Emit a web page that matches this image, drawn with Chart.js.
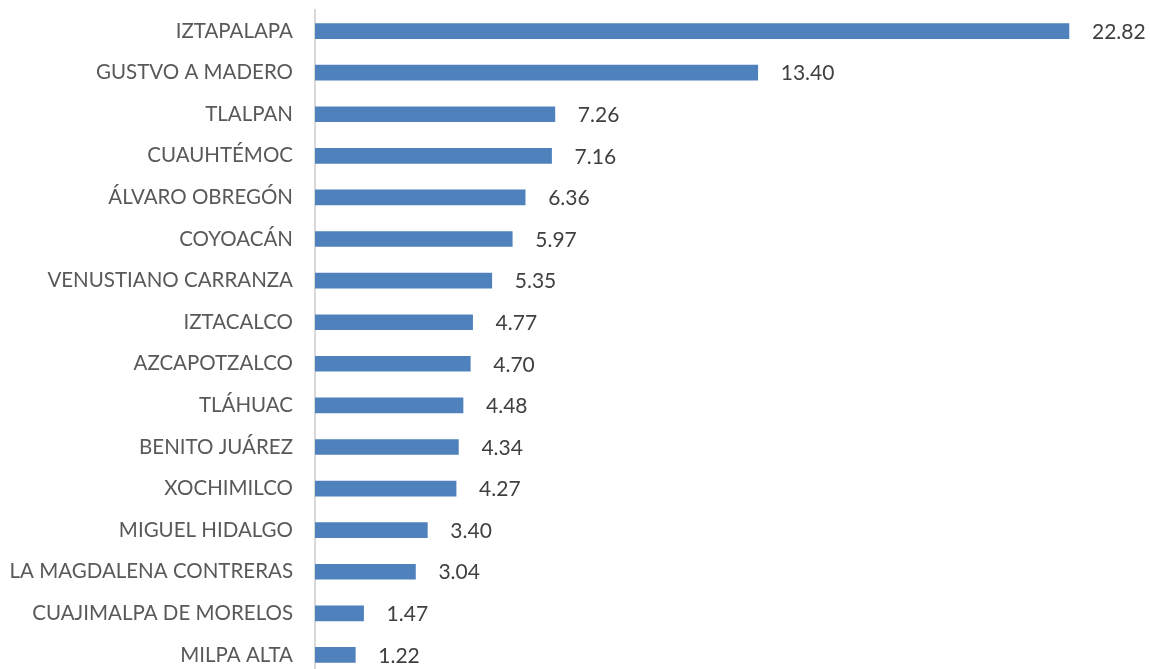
<!DOCTYPE html>
<html>
<head>
<meta charset="utf-8">
<script src="https://cdn.jsdelivr.net/npm/chart.js@4"></script>
<style>
html,body{margin:0;padding:0;background:#fff;overflow:hidden;}
#wrap{width:1150px;height:669px;position:relative;overflow:hidden;}
#c{position:absolute;left:0;top:-2px;}
</style>
</head>
<body>
<div id="wrap"><canvas id="c" width="1150" height="690"></canvas></div>
<script>
const categories = ["IZTAPALAPA","GUSTVO A MADERO","TLALPAN","CUAUHTÉMOC","ÁLVARO OBREGÓN","COYOACÁN","VENUSTIANO CARRANZA","IZTACALCO","AZCAPOTZALCO","TLÁHUAC","BENITO JUÁREZ","XOCHIMILCO","MIGUEL HIDALGO","LA MAGDALENA CONTRERAS","CUAJIMALPA DE MORELOS","MILPA ALTA"];
const values = [22.82,13.40,7.26,7.16,6.36,5.97,5.35,4.77,4.70,4.48,4.34,4.27,3.40,3.04,1.47,1.22];

const FONT = "Lato, 'Open Sans', sans-serif";

const valueLabels = {
  id: 'valueLabels',
  afterDatasetsDraw(chart) {
    const ctx = chart.ctx;
    const meta = chart.getDatasetMeta(0);
    ctx.save();
    ctx.font = "21px " + FONT;
    ctx.fillStyle = "#404040";
    ctx.textAlign = "left";
    ctx.textBaseline = "middle";
    meta.data.forEach((bar, i) => {
      ctx.fillText(values[i].toFixed(2), bar.x + 23, bar.y + 1);
    });
    ctx.restore();
  }
};

const chart = new Chart(document.getElementById('c'), {
  type: 'bar',
  data: {
    labels: categories,
    datasets: [{
      data: values,
      backgroundColor: '#4f81bd',
      borderWidth: 0,
      barThickness: 15
    }]
  },
  options: {
    indexAxis: 'y',
    responsive: false,
    animation: false,
    layout: { padding: { top: 0, bottom: 0, left: 0, right: 9 } },
    plugins: { legend: { display: false }, tooltip: { enabled: false } },
    scales: {
      x: {
        min: 0, max: 25,
        display: false
      },
      y: {
        afterFit(scale) { scale.width = 315; },
        grid: { display: true, drawOnChartArea: false, drawTicks: true, tickLength: 22, tickColor: 'rgba(0,0,0,0)' },
        border: { display: true, color: '#d9d9d9', width: 2 },
        ticks: {
          color: '#595959',
          padding: 0,
          font: { family: FONT, size: 20.5 }
        }
      }
    }
  },
  plugins: [valueLabels]
});
</script>
</body>
</html>
